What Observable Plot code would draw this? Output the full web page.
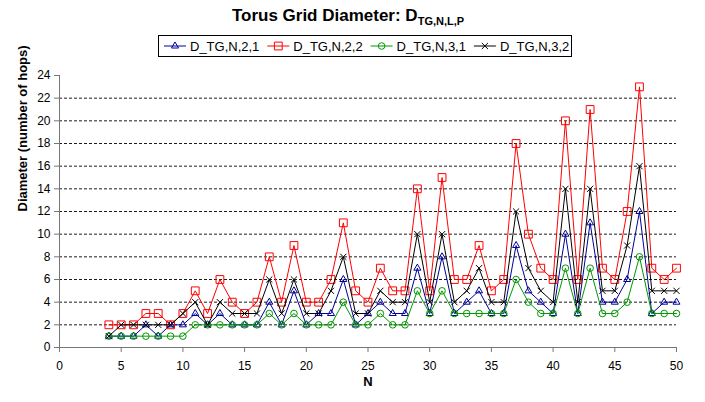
<!DOCTYPE html>
<html>
<head>
<meta charset="utf-8">
<script src="https://cdn.jsdelivr.net/npm/d3@7"></script>
<script src="https://cdn.jsdelivr.net/npm/@observablehq/plot@0.6"></script>
<style>
  body { margin: 0; background: #fff; }
  svg { display: block; }
</style>
</head>
<body>
<div id="chart"></div>
<script>
// ---- data ----
const nValues = [4,5,6,7,8,9,10,11,12,13,14,15,16,17,18,19,20,21,22,23,24,25,26,27,28,29,30,31,32,33,34,35,36,37,38,39,40,41,42,43,44,45,46,47,48,49,50];
const d_TG_N_2_1 = [1,1,1,2,1,2,2,3,2,3,2,2,2,4,2,5,2,3,3,6,2,3,4,3,3,7,3,8,3,4,5,3,3,9,5,4,3,10,3,11,4,4,6,12,3,4,4];
const d_TG_N_2_2 = [2,2,2,3,3,2,3,5,3,6,4,3,4,8,4,9,4,4,6,11,5,4,7,5,5,14,5,15,6,6,9,5,6,18,10,7,6,20,6,21,7,6,12,23,7,6,7];
const d_TG_N_3_1 = [1,1,1,1,1,1,1,2,2,2,2,2,2,3,2,3,2,2,2,4,2,2,3,2,2,5,3,5,3,3,3,3,3,6,4,3,3,7,3,7,3,3,4,8,3,3,3];
const d_TG_N_3_2 = [1,2,2,2,2,2,3,4,2,4,3,3,3,6,3,6,3,3,5,8,3,3,5,4,4,10,4,10,4,5,7,4,4,12,7,5,4,14,4,14,5,5,9,16,5,5,5];
const seriesNames = ["D_TG,N,2,1", "D_TG,N,2,2", "D_TG,N,3,1", "D_TG,N,3,2"];
const xTicks = [0,5,10,15,20,25,30,35,40,45,50];
const yTicks = [0,2,4,6,8,10,12,14,16,18,20,22,24];
const gridLines = [2,4,6,8,10,12,14,16,18,20,22];
const titleMain = "Torus Grid Diameter: D";
const titleSub = "TG,N,L,P";
const xLabel = "N";
const yLabel = "Diameter (number of hops)";

// ---- styles ----
const seriesValues = [d_TG_N_2_1, d_TG_N_2_2, d_TG_N_3_1, d_TG_N_3_2];
const seriesColors = ["#000099", "#ff0000", "#009900", "#000000"];
const seriesSymbols = ["triangle", "square", "circle", "times"];
const seriesR = [2.6, 4.4, 3.3, 2.9];

const series = seriesNames.map((name, i) => ({
  name,
  color: seriesColors[i],
  symbol: seriesSymbols[i],
  r: seriesR[i],
  rows: nValues.map((n, j) => ({N: n, value: seriesValues[i][j]}))
}));

const W = 705, H = 402;
const marks = [
  Plot.ruleY(gridLines, {stroke: "#000", strokeDasharray: "3,2", strokeWidth: 0.9}),
  Plot.ruleY([0], {stroke: "#777"}),
  Plot.ruleX([0], {stroke: "#777"}),
  Plot.axisX({ticks: xTicks, tickSize: 5, tickPadding: 9, fontSize: 12, label: null, stroke: "#777"}),
  Plot.axisY({ticks: yTicks, tickSize: 5, tickPadding: 4, fontSize: 12, label: null, stroke: "#777"}),
  Plot.text([xLabel], {text: d => d, frameAnchor: "bottom", dy: 38, fontWeight: "bold", fontSize: 13}),
  Plot.text([yLabel], {text: d => d, frameAnchor: "left", dx: -37, rotate: -90, fontWeight: "bold", fontSize: 13})
];
for (const s of series) {
  marks.push(Plot.line(s.rows, {x: "N", y: "value", stroke: s.color, strokeWidth: 1}));
  marks.push(Plot.dot(s.rows, {x: "N", y: "value", symbol: () => s.symbol, r: s.r, stroke: s.color, fill: "none", strokeWidth: 1}));
}

const chart = Plot.plot({
  width: W,
  height: H,
  marginLeft: 59,
  marginRight: 29,
  marginTop: 75,
  marginBottom: 55,
  style: {fontFamily: "'Liberation Sans', Arial, sans-serif", fontSize: "12px", background: "#fff", color: "#000"},
  x: {domain: [0, 50]},
  y: {domain: [0, 24]},
  symbol: {type: "identity"},
  marks
});
document.getElementById("chart").appendChild(chart);

// ---- title and legend ----
const svg = d3.select(chart);
const t = svg.append("text")
  .attr("x", 348).attr("y", 21)
  .attr("text-anchor", "middle")
  .attr("font-size", 17).attr("font-weight", "bold").attr("fill", "#000");
t.append("tspan").text(titleMain);
t.append("tspan").attr("font-size", 11).attr("dy", 4).text(titleSub);

const lg = svg.append("g");
lg.append("rect").attr("x", 158.5).attr("y", 35.5).attr("width", 413).attr("height", 21)
  .attr("fill", "#fff").attr("stroke", "#000");
const symMap = {triangle: d3.symbolTriangle, square: d3.symbolSquare, circle: d3.symbolCircle, times: d3.symbolTimes};
series.forEach((s, i) => {
  const x0 = 164 + i * 103.3, cy = 46;
  const g = lg.append("g");
  g.append("line").attr("x1", x0).attr("x2", x0 + 22).attr("y1", cy).attr("y2", cy).attr("stroke", s.color);
  g.append("path").attr("transform", `translate(${x0 + 11},${cy})`)
    .attr("d", d3.symbol(symMap[s.symbol], Math.PI * s.r * s.r)())
    .attr("fill", "none").attr("stroke", s.color);
  g.append("text").attr("x", x0 + 26).attr("y", cy + 4.5).attr("text-anchor", "start")
    .attr("font-size", 13).attr("fill", "#000").text(s.name);
});
</script>
</body>
</html>
